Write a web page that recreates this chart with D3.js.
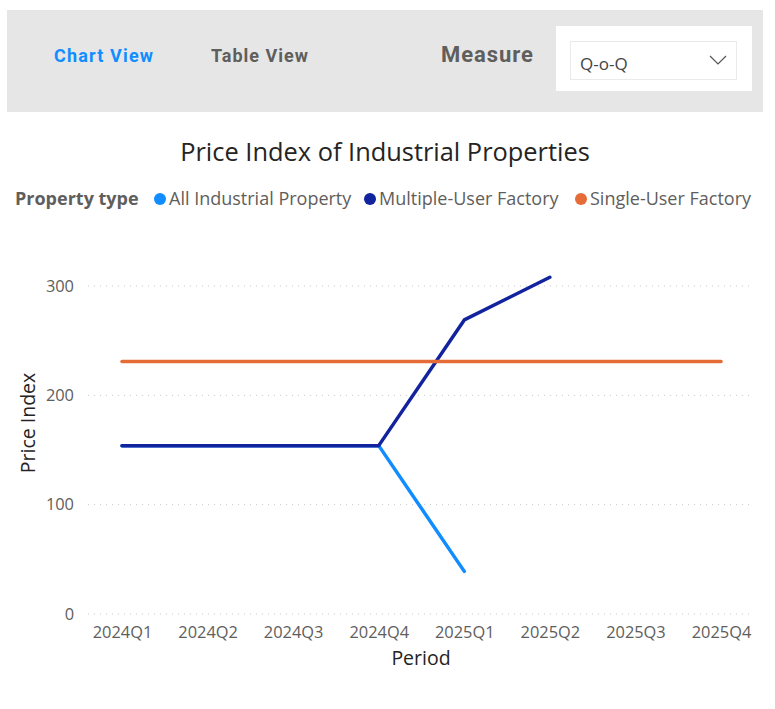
<!DOCTYPE html>
<html lang="en">
<head>
<meta charset="utf-8">
<title>Price Index of Industrial Properties</title>
<script src="https://d3js.org/d3.v7.min.js"></script>
<style>
  body { margin: 0; background: white; font-family: "Open Sans", "Noto Sans", sans-serif; }
</style>
</head>
<body>
<div id="chart"></div>
<script>
// data
var periods = ["2024Q1","2024Q2","2024Q3","2024Q4","2025Q1","2025Q2","2025Q3","2025Q4"];
var allIndustrial = [154, 154, 154, 154, 39, null, null, null];
var multipleUser  = [154, 154, 154, 154, 269, 308, null, null];
var singleUser    = [231, 231, 231, 231, 231, 231, 231, 231];
var yTicks = [0, 100, 200, 300];

var seriesNames = ["All Industrial Property", "Multiple-User Factory", "Single-User Factory"];
var seriesColors = ["#118DFF", "#12239E", "#E66C37"];
var seriesValues = [allIndustrial, multipleUser, singleUser];

var W = 775, H = 709;
var svg = d3.select("#chart").append("svg")
    .attr("width", W)
    .attr("height", H);

// header bar
svg.append("rect").attr("x", 7).attr("y", 10).attr("width", 756).attr("height", 102).attr("fill", "#e6e6e6");
svg.append("text").attr("x", 54).attr("y", 62).text("Chart View")
    .style("font-family", "Roboto, sans-serif").style("font-weight", "bold")
    .style("font-size", "18px").attr("fill", "#118dff").attr("textLength", 99);
svg.append("text").attr("x", 211).attr("y", 62).text("Table View")
    .style("font-family", "Roboto, sans-serif").style("font-weight", "bold")
    .style("font-size", "18px").attr("fill", "#605e5c").attr("textLength", 97);
svg.append("text").attr("x", 441).attr("y", 62).text("Measure")
    .style("font-family", "Roboto, sans-serif").style("font-weight", "bold")
    .style("font-size", "22px").attr("fill", "#605e5c").attr("textLength", 92);
svg.append("rect").attr("x", 556).attr("y", 26).attr("width", 196).attr("height", 65).attr("fill", "white");
svg.append("rect").attr("x", 570.5).attr("y", 41.5).attr("width", 166).attr("height", 38)
    .attr("fill", "white").attr("stroke", "#eaeaea");
svg.append("text").attr("x", 580).attr("y", 70).text("Q-o-Q")
    .style("font-size", "17px").attr("fill", "#444");
svg.append("path").attr("d", "M710,56 L718,64 L726,56")
    .attr("fill", "none").attr("stroke", "#555").attr("stroke-width", 1.2);

// title
svg.append("text").attr("x", 385).attr("y", 161).attr("text-anchor", "middle")
    .text("Price Index of Industrial Properties")
    .style("font-size", "25.4px").attr("fill", "#252423");

// legend
svg.append("text").attr("x", 15).attr("y", 205).text("Property type")
    .style("font-size", "18px").style("font-weight", "bold").attr("fill", "#605e5c");
var legendX = [160, 370, 581];
seriesNames.forEach(function(name, i) {
  svg.append("circle").attr("cx", legendX[i]).attr("cy", 199).attr("r", 6).attr("fill", seriesColors[i]);
  svg.append("text").attr("x", legendX[i] + 9).attr("y", 205).text(name)
      .style("font-size", "18px").attr("fill", "#605e5c");
});

// scales
var x = d3.scalePoint().domain(periods).range([122, 721]);
var y = d3.scaleLinear().domain([0, 300]).range([614, 286]);

// gridlines
svg.append("g").selectAll("line").data(yTicks).enter().append("line")
    .attr("x1", 88).attr("x2", 750)
    .attr("y1", function(d) { return y(d); }).attr("y2", function(d) { return y(d); })
    .attr("stroke", "#c8c8c8").attr("stroke-width", 1).attr("stroke-dasharray", "1,5");

// y axis labels
var yAxis = svg.append("g").attr("transform", "translate(80,0)")
    .call(d3.axisLeft(y).tickValues(yTicks).tickSize(0).tickPadding(6));
yAxis.select(".domain").remove();
yAxis.selectAll("text").style("font-family", "Open Sans, sans-serif").style("font-size", "16.4px").attr("fill", "#605e5c");

// x axis labels
var xAxis = svg.append("g").attr("transform", "translate(0,622)")
    .call(d3.axisBottom(x).tickSize(0).tickPadding(4));
xAxis.select(".domain").remove();
xAxis.selectAll("text").style("font-family", "Open Sans, sans-serif").style("font-size", "16.4px").attr("fill", "#605e5c");

// axis titles
svg.append("text").attr("x", 421).attr("y", 665).attr("text-anchor", "middle").text("Period")
    .style("font-size", "19.5px").attr("fill", "#252423");
svg.append("text").attr("transform", "translate(35,423) rotate(-90)").attr("text-anchor", "middle")
    .text("Price Index").style("font-size", "19.5px").attr("fill", "#252423");

// lines
var line = d3.line()
    .defined(function(d) { return d.v != null; })
    .x(function(d) { return x(d.p); })
    .y(function(d) { return y(d.v); });

seriesValues.forEach(function(vals, i) {
  var pts = periods.map(function(p, j) { return { p: p, v: vals[j] }; });
  svg.append("path").datum(pts)
      .attr("d", line)
      .attr("fill", "none")
      .attr("stroke", seriesColors[i])
      .attr("stroke-width", 3.5)
      .attr("stroke-linecap", "round")
      .attr("stroke-linejoin", "round");
});
</script>
</body>
</html>
